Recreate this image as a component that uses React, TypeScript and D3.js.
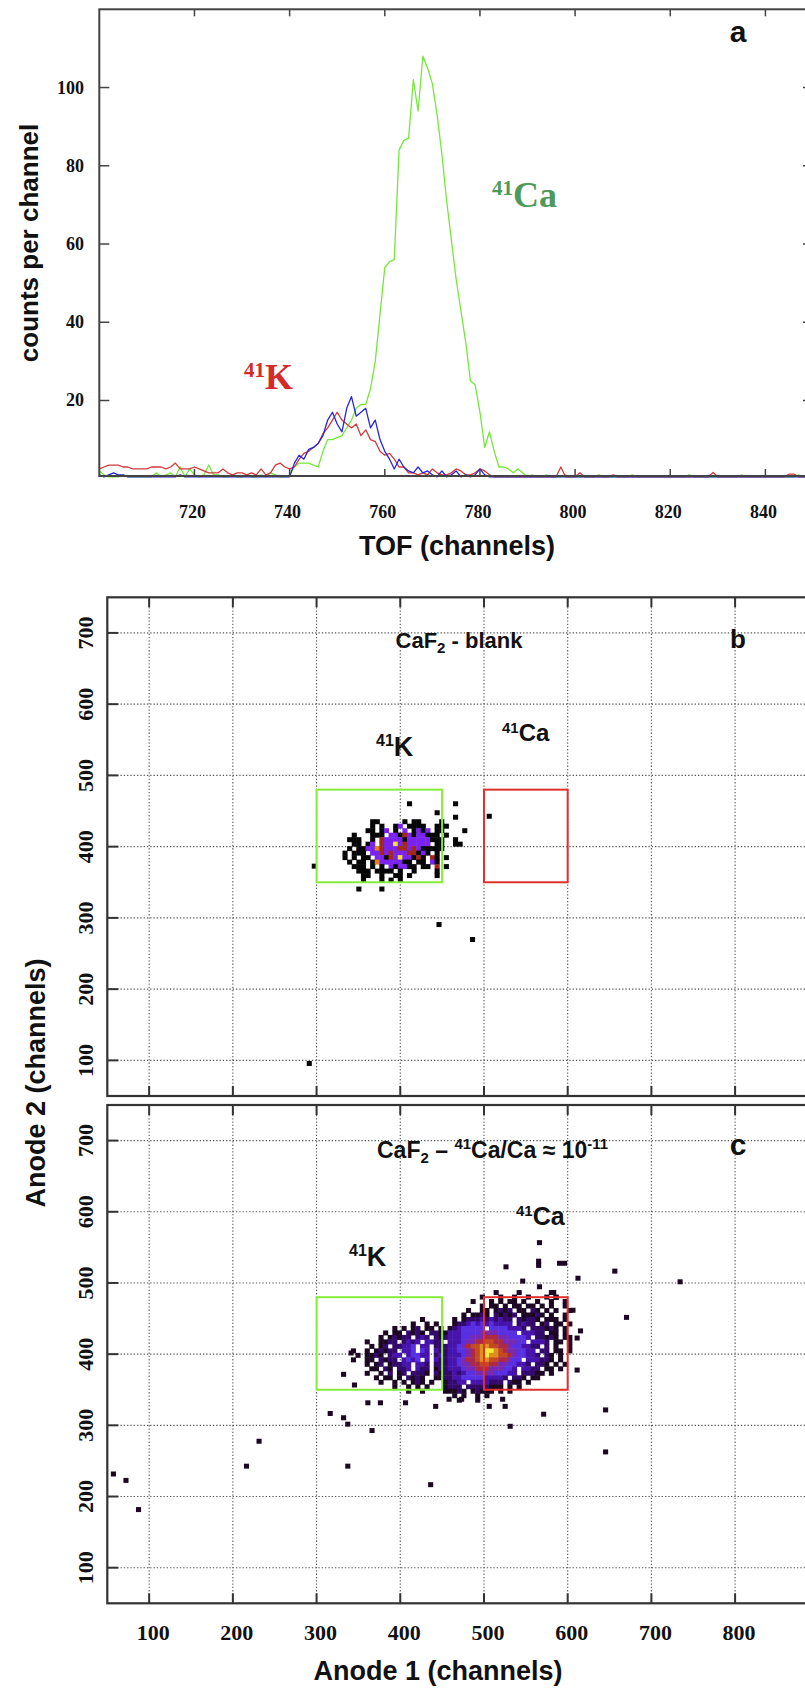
import React from "react";
import * as d3 from "d3";

// ---------------- panel a : TOF spectra (channels 700..850) ----------------
const tofStart = 700;
const tofTicks = [720, 740, 760, 780, 800, 820, 840];
const countTicks = [20, 40, 60, 80, 100];

// 41Ca sample
const greenCounts = [
  2, 1, 0.5, 0.5, 0.5, 1, 0.5, 0.5, 0.5, 0.5,
  0.5, 0.5, 1.5, 0.5, 1, 1.5, 0.5, 3, 0.5, 2.5,
  1, 0.5, 1, 3.5, 1, 1, 0.5, 0.5, 1, 0.5,
  0.5, 1, 0.5, 0.5, 1, 0.5, 1.5, 1, 0.5, 0.5,
  1, 3, 4, 4, 4, 3.5, 3, 7, 10, 10,
  10.5, 11, 13, 15, 18, 19, 19, 23, 30, 42,
  54, 55.5, 56, 84, 86.5, 87, 102, 94, 108, 105,
  101, 93, 83, 71, 61, 51, 43, 35, 25, 24,
  17, 8, 12, 7, 3, 3, 2.5, 1.5, 2.5, 1.5,
  0.5, 1, 0.5, 0.5, 1, 0.5, 0.5, 0.5, 1, 0.5,
  0.5, 0.5, 0.5, 0.5, 0.5, 1, 0.5, 0.5, 0.5, 0.5,
  0.5, 0.5, 1, 0.5, 0.5, 0.5, 0.5, 0.5, 0.5, 0.5,
  0.5, 0.5, 0.5, 0.5, 1, 0.5, 0.5, 0.5, 0.5, 0.5,
  0.5, 0.5, 0.5, 0.5, 0.5, 1, 0.5, 0.5, 0.5, 0.5,
  0.5, 0.5, 0.5, 0.5, 0.5, 0.5, 0.5, 1, 0.5, 0.5, 0.5,
];
// blank 1
const redCounts = [
  2.5, 3, 3.5, 3.5, 3.5, 3, 3, 2.5, 2.5, 2.5,
  2.5, 3, 3, 3, 2.5, 3, 4, 2.5, 2.5, 2.5,
  3, 2.5, 2, 1.5, 1.5, 1.5, 2.5, 1.5, 1, 1.5,
  1.5, 1, 1.5, 1, 2.5, 1, 1.5, 3.5, 4, 3,
  2.5, 3, 5, 6.5, 7, 8, 9, 11.5, 13, 15,
  17, 15, 14, 13, 14, 11, 12.5, 10, 9.5, 7,
  6, 6.5, 5, 3, 3, 1.5, 1.5, 1, 1.5, 1,
  2.5, 1.5, 1, 1, 1.5, 2.5, 2, 1, 1, 1.5,
  2.5, 2, 1, 0.5, 0.5, 0.5, 0.5, 0.5, 0.5, 0.5,
  0.5, 0.5, 0.5, 0.5, 0.5, 0.5, 0.5, 3, 0.5, 0.5,
  0.5, 1.5, 0.5, 0.5, 0.5, 0.5, 0.5, 0.5, 1, 0.5,
  0.5, 0.5, 0.5, 0.5, 0.5, 0.5, 0.5, 0.5, 0.5, 0.5,
  0.5, 0.5, 0.5, 0.5, 0.5, 0.5, 0.5, 0.5, 0.5, 1.6,
  0.5, 0.5, 0.5, 0.5, 0.5, 0.5, 0.5, 0.5, 0.5, 0.5,
  0.5, 0.5, 0.5, 0.5, 0.5, 1.2, 1.2, 0.5, 0.5, 0.5, 0.5,
];
// blank 2
const blueCounts = [
  1, 0.5, 1, 1.5, 1, 1, 0.5, 0.5, 0.5, 0.5,
  0.5, 0.5, 0.5, 0.5, 0.5, 0.5, 0.5, 1, 0.5, 0.5,
  0.5, 0.5, 0.5, 0.5, 0.5, 0.5, 0.5, 0.5, 0.5, 0.5,
  0.5, 0.5, 0.5, 0.5, 0.5, 0.5, 0.5, 0.5, 0.5, 0.5,
  0.5, 4, 6, 5, 7.5, 8, 9, 11, 15, 17,
  14, 12, 18, 21, 16, 17, 18, 13, 15, 10,
  7, 5, 2.5, 5, 3, 2, 1.5, 3, 1.5, 2,
  1, 0.5, 2, 0.5, 1, 2, 0.5, 1, 0.5, 1,
  2.5, 1, 0.5, 0.5, 0.5, 0.5, 0.5, 0.5, 0.5, 0.5,
  0.5, 0.5, 0.5, 0.5, 0.5, 0.5, 0.5, 0.5, 0.5, 0.5,
  0.5, 0.5, 0.5, 0.5, 0.5, 0.5, 0.5, 0.5, 0.5, 0.5,
  0.5, 0.5, 0.5, 0.5, 0.5, 0.5, 0.5, 0.5, 0.5, 0.5,
  0.5, 0.5, 0.5, 0.5, 0.5, 0.5, 0.5, 0.5, 0.5, 0.5,
  0.5, 0.5, 0.5, 0.5, 0.5, 0.5, 0.5, 0.5, 0.5, 0.5,
  0.5, 0.5, 0.5, 0.5, 0.5, 0.5, 0.5, 0.5, 0.5, 0.5, 0.5,
];

// ---------------- panels b, c : anode 1 vs anode 2 ----------------
const anode1Ticks = [100, 200, 300, 400, 500, 600, 700, 800];
const anode2Ticks = [100, 200, 300, 400, 500, 600, 700];
const gateK = { x0: 300, x1: 450, y0: 350, y1: 480 };
const gateCa = { x0: 500, x1: 600, y0: 350, y1: 480 };
const binX = 5.5;
const binY = 6.3;

// blank: each char is a cell, '.' empty, digit = colour level
const blankOrigin = { u: 320, v: 470 };
const blankRows = [
  "",
  "................1.........1",
  "",
  "......................1",
  "..........................1",
  "........11.....1.11....1",
  "........1.1..12.1111..111",
  ".......11.12.1.2.1212.11....1",
  "....1...111.22132122111.1",
  "...111..1.32222122222111..1",
  "....11.12.32252322222.11..11",
  "...1.1122432223323211111",
  "..1.111.2232322233121.1",
  "..1.1.11.22132522131.31.1",
  "...1.11.142222211.11.21",
  "....111.1.1.212211.11.3.1",
  ".....111.1111.1..1....1",
  "......11..1..11.1.....1",
  "......1...1.1.1",
  "",
  ".....1....1",
];
const blankStray = [
  [297, 373], [291, 96], [446, 291], [486, 270], [506, 443],
];
const blankColors = ["#060606", "#7a22f0", "#a2281c", "#e5801a", "#f0e43a"];

// 41Ca/Ca ~ 1e-11 sample
const sampleOrigin = { u: 330, v: 490 };
const sampleRows = [
  "................................." + "1....1......1",
  ".............................." + "1...1..1..1...1.1",
  "............................" + "1...1.1.11.1..1..1..1",
  ".............................." + "1.11.1.11.11.1.1..1",
  "..........................." + "1..11.1212.11.21.1.1..1",
  ".........................." + "1.1121.21212.11121.1..1",
  ".................1....." + ".1.12223232322.21221.111.1",
  "...............1..1.1.." + ".1223434343333.2322.12.11.1",
  "...........1.1.12.11.1." + "12344444.44443332.222121.1.",
  ".........1.11.2121.2211" + "333444455554444.33322.11.1",
  "........1.12122.232.212" + "333445556665544443.22121.11",
  ".....1..1122.2323.3322." + "33345566776655544.3332.11.1",
  "......1.12.22334.33.222" + "33456778877665443322.2.1..1",
  "..1..1.12122.334.43.322" + "3344567899876554433.22.11.1",
  "...1.1121.233.34433.232" + "33345678988776544332.21.1..",
  "..1..11.2122.3434.3.322" + "3345667887766544.333221.1",
  ".....1.12.12233.332.222" + "334556677665544332.221.1.1",
  "......11.21.223.322.122" + "333455666555443.3322.11.1",
  ".....1..1.2.12.2221.212" + "232344555544433.22211.1",
  ".......1.11.1.2121..112" + "2334444433332.221.11",
  "........1..1.1.121.1..1" + "2233.3333222.211.1",
  "...........1..1.1.1...1" + "222.22222111.1.1",
  "..............1..1....1" + "1121.12111.1.1",
  "......................." + ".1.1..1.1",
  "......................." + "..1...1",
];
const sampleStray = [
  [57, 232], [72, 223], [87, 182], [216, 243], [231, 278], [316, 317],
  [332, 311], [337, 302], [337, 243], [366, 293], [436, 217], [345, 357],
  [332, 372], [341, 402], [361, 332], [376, 332], [406, 332], [442, 327],
  [458, 337], [473, 337], [506, 327], [522, 337], [525, 327], [531, 299],
  [571, 316], [645, 322], [645, 263], [611, 378], [615, 433], [611, 423],
  [606, 462], [612, 507], [596, 528], [590, 528], [566, 557], [565, 525],
  [565, 531], [526, 523], [546, 503], [566, 495], [583, 487], [586, 480],
  [656, 517], [670, 452], [734, 502],
];
const sampleColors = [
  "#1c0822", "#330a6c", "#4614ac", "#5830e2", "#7a2ab0",
  "#ac2a44", "#c44a22", "#e0901e", "#f5ec3a",
];

const SERIF = "'Liberation Serif', 'Times New Roman', serif";
const SANS = "'Liberation Sans', Arial, sans-serif";

function parseCells(rows, origin) {
  const out = [];
  rows.forEach((row, r) => {
    for (let c = 0; c < row.length; c++) {
      if (row[c] === ".") continue;
      out.push({ u: origin.u + c * binX, v: origin.v - r * binY, level: +row[c] });
    }
  });
  return out;
}

const xa = d3.scaleLinear().domain([700, 850]).range([99.3, 813]);
const ya = d3.scaleLinear().domain([0.7, 120]).range([476, 9.3]);
const xb = d3.scaleLinear().domain([50, 900]).range([107.3, 818.8]);

function Spectrum() {
  const line = d3
    .line<number>()
    .x((d, i) => xa(tofStart + i))
    .y((d) => ya(d));
  const [x0, x1] = xa.range();
  const [y1, y0] = ya.range();
  return (
    <g>
      <clipPath id="clipA">
        <rect x={x0} y={y0} width={x1 - x0} height={y1 - y0 + 2} />
      </clipPath>
      <g clipPath="url(#clipA)" fill="none" strokeWidth={1.3} strokeLinejoin="round">
        <path d={line(greenCounts)} stroke="#74e83a" />
        <path d={line(redCounts)} stroke="#d23a3a" />
        <path d={line(blueCounts)} stroke="#2626dc" />
      </g>
      <rect x={x0} y={y0} width={x1 - x0} height={y1 - y0} fill="none" stroke="#444" strokeWidth={2} />
      {tofTicks.map((t) => (
        <g key={t} stroke="#444" strokeWidth={1.5}>
          <line x1={xa(t)} x2={xa(t)} y1={y0} y2={y0 + 7} />
          <line x1={xa(t)} x2={xa(t)} y1={y1} y2={y1 - 7} />
        </g>
      ))}
      {countTicks.map((t) => (
        <g key={t} stroke="#444" strokeWidth={1.5}>
          <line x1={x0} x2={x0 + 10} y1={ya(t)} y2={ya(t)} />
          <line x1={x1} x2={x1 - 10} y1={ya(t)} y2={ya(t)} />
        </g>
      ))}
      <g fontFamily={SERIF} fontWeight="bold" fontSize={18} fill="#111">
        {tofTicks.map((t) => (
          <text key={t} x={xa(t) - 2} y={518} textAnchor="middle">{t}</text>
        ))}
        {countTicks.map((t) => (
          <text key={t} x={84} y={ya(t) + 6} textAnchor="end">{t}</text>
        ))}
      </g>
      <text x={492} y={207} fontFamily={SERIF} fontWeight="bold" fill="#4f9a5a">
        <tspan fontSize={21} dy={-12}>41</tspan>
        <tspan fontSize={36} dy={12}>Ca</tspan>
      </text>
      <text x={244} y={389} fontFamily={SERIF} fontWeight="bold" fill="#d42a2a">
        <tspan fontSize={21} dy={-12}>41</tspan>
        <tspan fontSize={36} dy={12}>K</tspan>
      </text>
      <g fontFamily={SANS} fontWeight="bold" fill="#111">
        <text x={738} y={42} fontSize={30} textAnchor="middle">a</text>
        <text x={457} y={555} fontSize={27} textAnchor="middle">TOF (channels)</text>
        <text transform="translate(38,243) rotate(-90)" fontSize={26} textAnchor="middle">counts per channel</text>
      </g>
    </g>
  );
}

function Hist({ id, yTop, yBottom, cells, stray, colors, strayLevel, xLabels, children }) {
  const y = d3.scaleLinear().domain([50, 750]).range([yBottom, yTop]);
  const [x0, x1] = xb.range();
  // cells drawn a touch larger than the bin so neighbours touch
  const cw = xb(binX) - xb(0) + 0.5;
  const ch = y(0) - y(binY) + 0.5;
  return (
    <g>
      <clipPath id={id}>
        <rect x={x0} y={yTop} width={x1 - x0} height={yBottom - yTop} />
      </clipPath>
      <g stroke="#555" strokeWidth={1.1} strokeDasharray="1.3 2">
        {anode1Ticks.map((t) => (
          <line key={t} x1={xb(t)} x2={xb(t)} y1={yTop} y2={yBottom} />
        ))}
        {anode2Ticks.map((t) => (
          <line key={t} x1={x0} x2={x1} y1={y(t)} y2={y(t)} />
        ))}
      </g>
      <g clipPath={`url(#${id})`}>
        {cells.map((c, i) => (
          <rect key={i} x={xb(c.u)} y={y(c.v)} width={cw} height={ch} fill={colors[c.level - 1]} />
        ))}
        {stray.map(([u, v], i) => (
          <rect key={"s" + i} x={xb(u - binX / 2)} y={y(v + binY / 2)} width={cw} height={ch} fill={colors[strayLevel]} />
        ))}
      </g>
      <rect x={xb(gateK.x0)} y={y(gateK.y1)} width={xb(gateK.x1) - xb(gateK.x0)} height={y(gateK.y0) - y(gateK.y1)} fill="none" stroke="#86ec3c" strokeWidth={2} />
      <rect x={xb(gateCa.x0)} y={y(gateCa.y1)} width={xb(gateCa.x1) - xb(gateCa.x0)} height={y(gateCa.y0) - y(gateCa.y1)} fill="none" stroke="#e0302c" strokeWidth={2} />
      <rect x={x0} y={yTop} width={x1 - x0} height={yBottom - yTop} fill="none" stroke="#333" strokeWidth={2.2} />
      <g stroke="#333" strokeWidth={2}>
        {anode1Ticks.map((t) => (
          <g key={t}>
            <line x1={xb(t)} x2={xb(t)} y1={yTop} y2={yTop + 10} />
            <line x1={xb(t)} x2={xb(t)} y1={yBottom} y2={yBottom - 10} />
          </g>
        ))}
        {anode2Ticks.map((t) => (
          <line key={t} x1={x0} x2={x0 + 11} y1={y(t)} y2={y(t)} />
        ))}
      </g>
      <g fontFamily={SERIF} fontWeight="bold" fontSize={22} fill="#111">
        {anode2Ticks.map((t) => (
          <text key={t} transform={`translate(93.3,${y(t)}) rotate(-90)`} textAnchor="middle">{t}</text>
        ))}
        {xLabels &&
          anode1Ticks.map((t) => (
            <text key={t} x={xb(t) + 4} y={yBottom + 37} textAnchor="middle">{t}</text>
          ))}
      </g>
      {children}
    </g>
  );
}

export default function App() {
  const blankCells = parseCells(blankRows, blankOrigin);
  const sampleCells = parseCells(sampleRows, sampleOrigin);
  return (
    <svg width={805} height={1688} style={{ position: "absolute", left: 0, top: 0, background: "#fff" }}>
      <rect width={805} height={1688} fill="#fff" />
      <Spectrum />
      <Hist id="clipB" yTop={597.3} yBottom={1096} cells={blankCells} stray={blankStray} colors={blankColors} strayLevel={0} xLabels={false}>
        <g fontFamily={SANS} fontWeight="bold" fill="#111">
          <text x={459} y={648} fontSize={22} textAnchor="middle">
            CaF<tspan fontSize={15} dy={5}>2</tspan>
            <tspan dy={-5}> - blank</tspan>
          </text>
          <text x={738} y={648} fontSize={26} textAnchor="middle">b</text>
          <text x={376} y={756}>
            <tspan fontSize={16} dy={-10}>41</tspan>
            <tspan fontSize={27} dy={10}>K</tspan>
          </text>
          <text x={502} y={741}>
            <tspan fontSize={15} dy={-8}>41</tspan>
            <tspan fontSize={24} dy={8}>Ca</tspan>
          </text>
        </g>
      </Hist>
      <Hist id="clipC" yTop={1105} yBottom={1603.3} cells={sampleCells} stray={sampleStray} colors={sampleColors} strayLevel={0} xLabels={true}>
        <g fontFamily={SANS} fontWeight="bold" fill="#111">
          <text x={377} y={1158} fontSize={23}>
            CaF<tspan fontSize={15} dy={5}>2</tspan>
            <tspan dy={-5}> – </tspan>
            <tspan fontSize={15} dy={-9}>41</tspan>
            <tspan dy={9}>Ca/Ca ≈ 10</tspan>
            <tspan fontSize={15} dy={-9}>-11</tspan>
          </text>
          <text x={738} y={1155} fontSize={30} textAnchor="middle">c</text>
          <text x={349} y={1266}>
            <tspan fontSize={16} dy={-10}>41</tspan>
            <tspan fontSize={27} dy={10}>K</tspan>
          </text>
          <text x={516} y={1225}>
            <tspan fontSize={15} dy={-9}>41</tspan>
            <tspan fontSize={25} dy={9}>Ca</tspan>
          </text>
        </g>
      </Hist>
      <g fontFamily={SANS} fontWeight="bold" fill="#111">
        <text transform="translate(45,1083) rotate(-90)" fontSize={27} textAnchor="middle">Anode 2 (channels)</text>
        <text x={438} y={1680} fontSize={27} textAnchor="middle">Anode 1 (channels)</text>
      </g>
    </svg>
  );
}
